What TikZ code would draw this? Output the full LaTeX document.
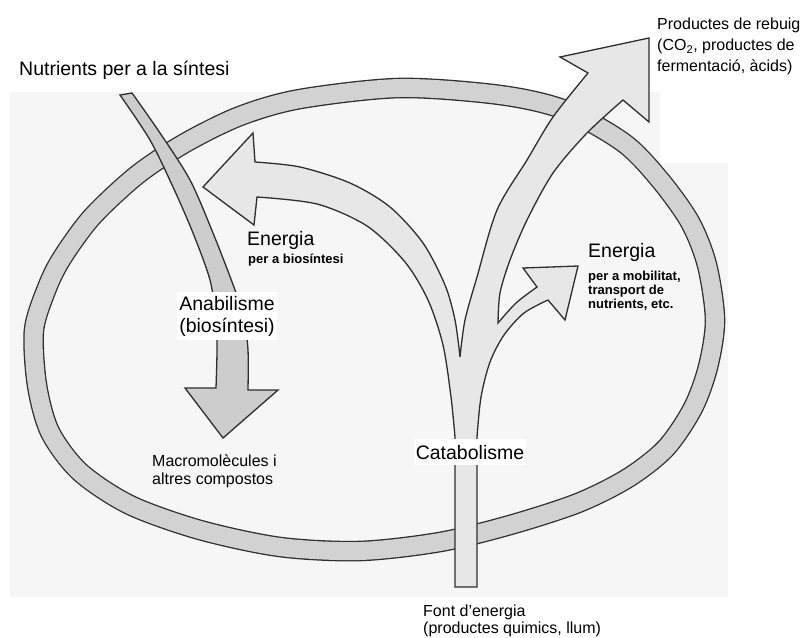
\documentclass[tikz,border=0pt]{standalone}
\usepackage{fontspec}
\setmainfont{Liberation Sans}
\definecolor{ringfill}{HTML}{D2D2D2}
\definecolor{anafill}{HTML}{CDCDCD}
\definecolor{catfill}{HTML}{E7E7E7}
\definecolor{edge}{HTML}{2E2E2E}
\definecolor{patch}{HTML}{F6F6F6}
\tikzset{
  shape outline/.style={draw=edge, line width=1.3pt, line join=miter, miter limit=3},
  bigtext/.style={font=\fontsize{19.5}{22}\selectfont, inner sep=0pt},
  midtext/.style={font=\fontsize{16}{20}\selectfont, inner sep=0pt},
  boldtext/.style={font=\fontsize{13}{14}\selectfont\bfseries, inner sep=0pt},
}
\begin{document}
\begin{tikzpicture}[x=1pt,y=-1pt]
\useasboundingbox (0,0) rectangle (805,637);
% faint grey backdrop
\fill[patch] (10,92) -- (660,92) -- (660,163) -- (728,163) -- (728,597) -- (10,597) -- cycle;

% cell membrane ring
\draw[draw=edge, line width=1.3pt, double=ringfill, double distance=18pt]
  plot[smooth cycle] coordinates {
  (34,330) (47,288) (62,258) (92,217) (137,175) (185,143) (240,116) (300,99)
  (400,88) (500,95) (565,110) (624,143) (660,180) (690,222) (707,265)
  (715,320) (708,367) (693,408) (666,448) (628,478) (578,503) (510,525)
  (440,542) (360,551) (280,547) (200,530) (130,505) (80,472) (50,432) (37,385)};

% anabolism: nutrients arrow
\draw[shape outline, fill=anafill]
  plot[smooth] coordinates {(120,95) (150,140) (173,187) (193,233) (210,280) (216,320) (217,350) (216,388)}
  -- (185,388) -- (223,438) -- (278,390) -- (248,390)
  -- plot[smooth] coordinates {(248,390) (248,350) (244,320) (235,290) (213,233) (190,180) (160,133) (132,93)}
  -- cycle;

% catabolism: stem with its three branches
\draw[shape outline, fill=catfill]
  (455,587) -- (455,437)
  -- plot[smooth] coordinates {(455,437) (451,397) (443,345) (428,300) (405,262) (367,226) (317,204) (257,197)}
  -- (254,225) -- (203,187) -- (253,133) -- (255,162)
  -- plot[smooth] coordinates {(255,162) (300,167) (350,183) (390,207) (423,243) (445,285) (455,320) (460,357)}
  -- plot[smooth] coordinates {(460,357) (465,320) (477,277) (497,210) (527,160) (553,117) (588,73)}
  -- (560,57) -- (649,38) -- (649,122) -- (623,100)
  -- plot[smooth] coordinates {(623,100) (587,133) (553,173) (527,220) (510,260) (500,293) (498,323)}
  -- plot[smooth] coordinates {(498,323) (516,303) (537,287)}
  -- (523,268) -- (578,266) -- (565,320) -- (548,300)
  -- plot[smooth] coordinates {(548,300) (524,313) (504,335) (490,362) (481,397) (477,437)}
  -- (477,587) -- cycle;

% labels
\node[bigtext, anchor=base west] (nutr) at (19,75) {Nutrients per a la síntesi};
\node[midtext, anchor=base west] (waste1) at (657,29) {Productes de rebuig};
\node[midtext, anchor=base west] (waste2) at (657,50.5) {(CO\textsubscript{2}, productes de};
\node[midtext, anchor=base west] (waste3) at (657,71) {fermentació, àcids)};
\node[bigtext, anchor=base west] (enbio) at (247,245) {Energia};
\node[boldtext, anchor=base west] (enbio2) at (248,263) {per a biosíntesi};
\node[bigtext, anchor=base west] (enmob) at (588,257) {Energia};
\node[boldtext, anchor=base west] (enmob1) at (588,280) {per a mobilitat,};
\node[boldtext, anchor=base west] (enmob2) at (588,294) {transport de};
\node[boldtext, anchor=base west] (enmob3) at (588,308) {nutrients, etc.};
\node[bigtext, fill=white, align=center, inner xsep=2pt, inner ysep=4pt, anchor=north] (anab) at (227,292) {Anabilisme\\(biosíntesi)};
\node[midtext, anchor=base west] (macro1) at (152,466) {Macromolècules i};
\node[midtext, anchor=base west] (macro2) at (152,484) {altres compostos};
\node[bigtext, fill=white, inner xsep=2pt, inner ysep=6pt, anchor=base] (catab) at (470,459) {Catabolisme};
\node[midtext, anchor=base west] (font1) at (423,616) {Font d'energia};
\node[midtext, anchor=base west] (font2) at (423,633) {(productes quimics, llum)};
\end{tikzpicture}
\end{document}
